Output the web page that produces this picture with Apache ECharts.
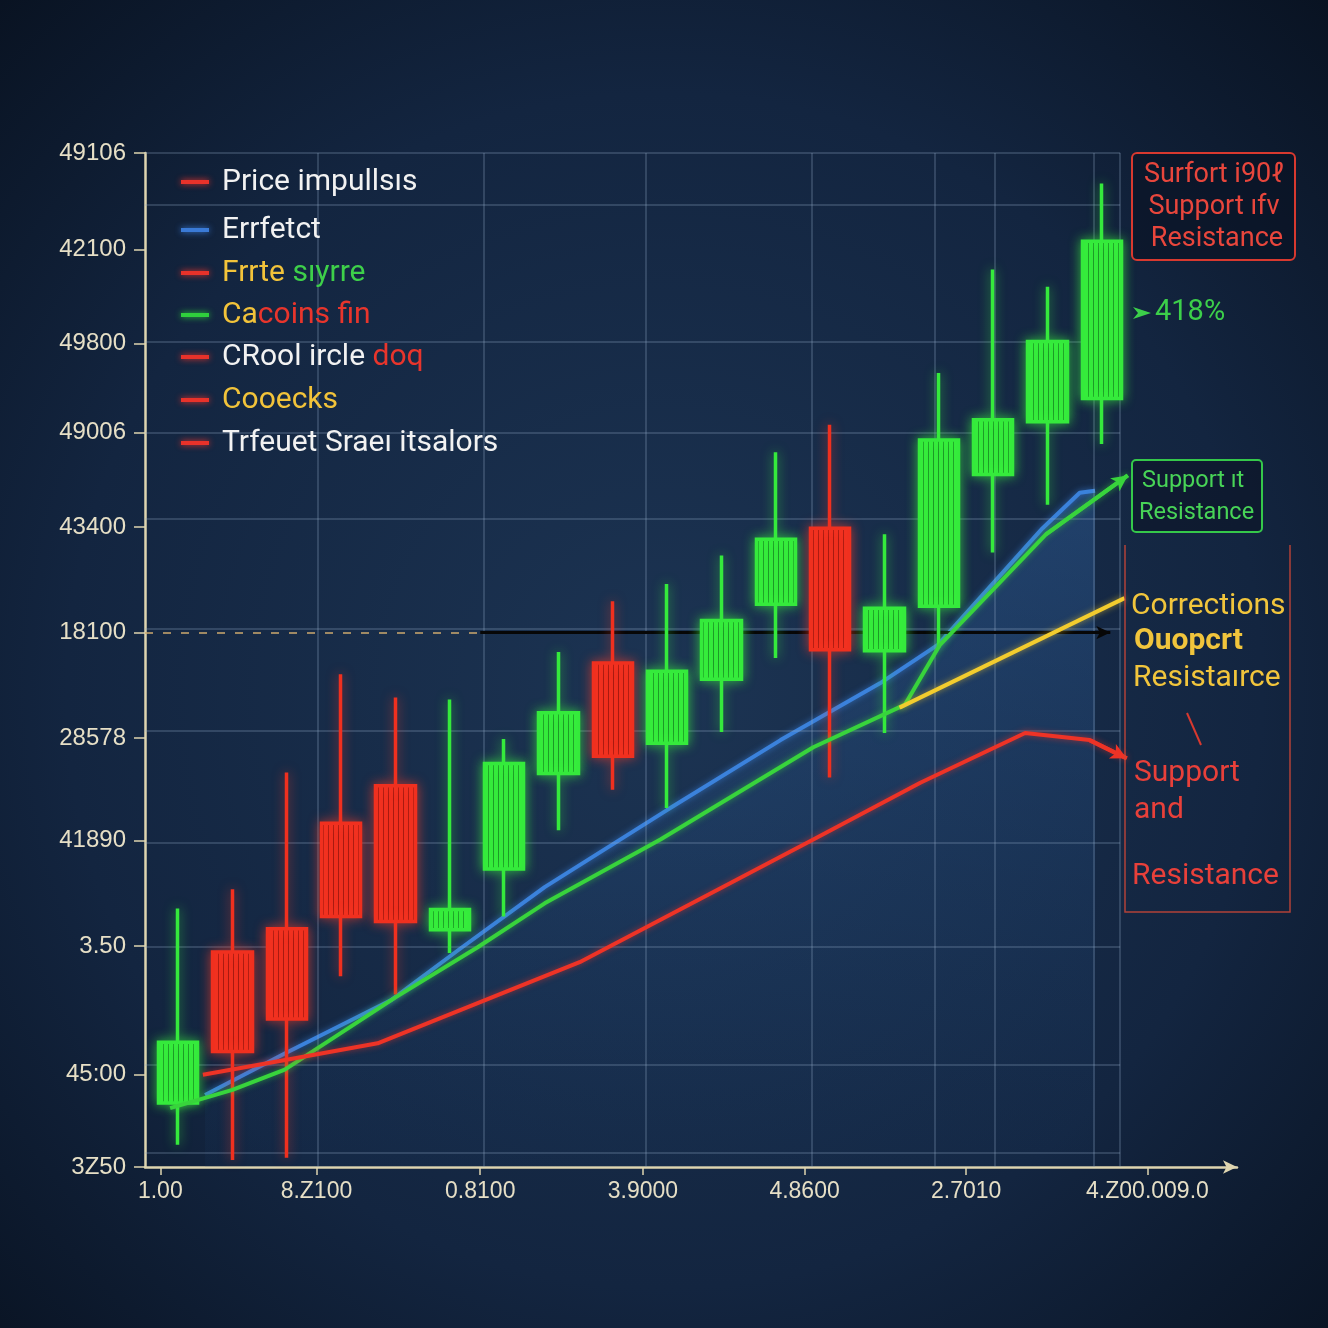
<!DOCTYPE html>
<html>
<head>
<meta charset="utf-8">
<script src="https://cdn.jsdelivr.net/npm/echarts@6/dist/echarts.min.js"></script>
<style>html,body{margin:0;padding:0;background:#0b1424;}#c{width:1328px;height:1328px;}</style>
</head>
<body>
<div id="c"></div>
<script>
// ---------- data ----------
const candleDays = ['D1','D2','D3','D4','D5','D6','D7','D8','D9','D10','D11','D12','D13','D14','D15','D16','D17','D18'];
// [open, close, low, high]
const candleOpen  = [6.3, 21.2, 23.5, 33.9, 37.6, 23.4, 29.4, 38.8, 49.7, 41.8, 48.1, 55.5, 63.0, 50.9, 55.3, 68.3, 73.5, 75.8];
const candleClose = [12.3, 11.4, 14.6, 24.7, 24.2, 25.4, 39.8, 44.8, 40.5, 48.9, 53.9, 61.9, 51.0, 55.1, 71.7, 73.7, 81.4, 91.3];
const candleLow   = [2.2, 0.7, 0.9, 18.8, 17.0, 21.1, 24.7, 33.2, 37.2, 35.4, 42.9, 50.2, 38.4, 42.8, 51.2, 60.6, 65.3, 71.3];
const candleHigh  = [25.5, 27.4, 38.9, 48.6, 46.3, 46.1, 42.2, 50.8, 55.8, 57.5, 60.3, 70.5, 73.2, 62.4, 78.3, 88.5, 86.8, 97.0];

const blueX  = [5.5, 12.8, 22.6, 28.7, 36.6, 47.8, 58.2, 67.3, 72.6, 82.2, 85.6, 87.0];
const blueY  = [7.1, 11.2, 16.5, 21.4, 27.6, 35.2, 42.1, 47.7, 51.5, 63.0, 66.5, 66.7];
const greenX = [2.3, 8.0, 12.8, 22.9, 30.5, 36.6, 47.2, 61.2, 69.6, 72.8, 82.5, 90.0];
const greenY = [5.8, 7.6, 9.6, 16.7, 21.7, 26.0, 32.3, 41.4, 45.6, 51.5, 62.4, 68.2];
const yellowX = [69.1, 89.7];
const yellowY = [45.3, 56.1];
const redX = [5.3, 13.1, 21.3, 39.8, 61.2, 71.0, 80.6, 86.5, 89.9];
const redY = [9.1, 10.6, 12.2, 20.2, 32.3, 37.9, 42.8, 42.1, 40.3];
const levelY = 52.7;         // dashed level
const levelStartX = 0, levelMidX = 30.7, levelEndX = 88.4;

const yTickVals   = [0, 9.1, 21.8, 32.2, 42.3, 52.7, 63.1, 72.4, 81.2, 90.5, 100];
const yTickLabels = ['3Z50', '45:00', '3.50', '41890', '28578', '18100', '43400', '49006', '49800', '42100', '49106'];
const xTickVals   = [1.4, 15.7, 30.7, 45.6, 60.4, 75.2, 91.8];
const xTickLabels = ['1.00', '8.Z100', '0.8100', '3.9000', '4.8600', '2.7010', '4.Z00.009.0'];

const gridYVals = [100, 94.9, 81.4, 72.4, 63.9, 53.1, 43.0, 32.0, 21.7, 10.1, 1.4];
const gridXVals = [15.8, 31.0, 45.9, 61.1, 72.3, 77.8, 86.9, 89.3];
const gridXEnd = 89.3;

const legendItems = [
  {color:'#e8322a', parts:[['w','Price impullsıs']]},
  {color:'#3a7ad6', parts:[['w','Errfetct']]},
  {color:'#e8322a', parts:[['y','Frrte '],['g','sıyrre']]},
  {color:'#2fcf3c', parts:[['y','Ca'],['r','coins fin']]},
  {color:'#e8322a', parts:[['w','CRool ircle '],['r','doq']]},
  {color:'#e8322a', parts:[['y','Cooecks']]},
  {color:'#e8322a', parts:[['w','Trfeuet Sraeı itsalors']]}
];

// ---------- helpers ----------
function zip(xs, ys){ return xs.map((x,i)=>[x, ys[i]]); }
function stripes(base, dark){
  const c = document.createElement('canvas'); c.width = 5; c.height = 4;
  const g = c.getContext('2d');
  g.fillStyle = base; g.fillRect(0,0,5,4);
  g.fillStyle = dark; g.fillRect(3,0,1,4);
  return {image:c, repeat:'repeat'};
}
const GREEN = '#35ea3c', RED = '#f0301f';

const chart = echarts.init(document.getElementById('c'), null, {renderer:'canvas'});

const candleData = candleDays.map((d,i)=>{
  const up = candleClose[i] >= candleOpen[i];
  return {value:[candleOpen[i], candleClose[i], candleLow[i], candleHigh[i]],
    itemStyle:{shadowColor: up ? 'rgba(60,255,60,0.6)' : 'rgba(255,60,40,0.6)'}};
});

const gridMarkData = [];
gridYVals.forEach(v => gridMarkData.push([{coord:[0, v]}, {coord:[gridXEnd, v]}]));
gridXVals.forEach(v => gridMarkData.push([{coord:[v, 0]}, {coord:[v, 100]}]));

const legendYs = [182, 230, 273, 315, 357, 400, 443];
const legendGraphics = [];
legendItems.forEach((it, i) => {
  const y = legendYs[i];
  legendGraphics.push({type:'line', shape:{x1:181, y1:y, x2:209, y2:y},
    style:{stroke:it.color, lineWidth:4, shadowBlur:6, shadowColor:it.color}, z:50});
  legendGraphics.push({type:'text', x:222, y:y, z:50,
    style:{text: it.parts.map(p=>'{'+p[0]+'|'+p[1]+'}').join(''), verticalAlign:'middle',
      rich:{
        w:{fill:'#f2f2f2', fontSize:30, fontFamily:'Roboto'},
        y:{fill:'#f2c33a', fontSize:30, fontFamily:'Roboto'},
        g:{fill:'#3ed04a', fontSize:30, fontFamily:'Roboto'},
        r:{fill:'#e8352c', fontSize:30, fontFamily:'Roboto'}
      }}});
});

function txt(x, y, s, color, size, extra){
  return Object.assign({type:'text', x:x, y:y, z:50,
    style:Object.assign({text:s, fill:color, fontSize:size, fontFamily:'Roboto', verticalAlign:'middle', textAlign:'left'}, extra||{})});
}

const annot = [
  {type:'rect', shape:{x:1132, y:153, width:163, height:107, r:5}, z:49,
    style:{fill:'rgba(10,16,32,0.55)', stroke:'#d8392f', lineWidth:2}},
  txt(1214, 175, 'Surfort i90ℓ', '#e8463c', 27, {textAlign:'center'}),
  txt(1214, 207, 'Support ıfv', '#e8463c', 27, {textAlign:'center'}),
  txt(1217, 239, 'Resistance', '#e8463c', 27, {textAlign:'center'}),
  {type:'polygon', shape:{points:[[1133,307],[1151,313],[1133,319],[1138,313]]}, z:50, style:{fill:'#3ccf4a'}},
  txt(1155, 313, '418%', '#3ccf4a', 29),
  {type:'rect', shape:{x:1132, y:460, width:130, height:72, r:4}, z:49,
    style:{fill:'rgba(10,16,32,0.5)', stroke:'#35c84a', lineWidth:2}},
  txt(1142, 481, 'Support ıt', '#48d457', 23.5),
  txt(1139, 513, 'Resistance', '#48d457', 23.5),
  txt(1131, 606, 'Corrections', '#f1c53c', 30),
  txt(1134, 641, 'Ouopcrt', '#f1c53c', 30, {fontWeight:'bold'}),
  txt(1133, 678, 'Resistaırce', '#f1c53c', 30),
  {type:'polyline', shape:{points:[[1125,545],[1125,912],[1290,912],[1290,545]]}, z:48,
    style:{stroke:'rgba(205,70,55,0.85)', lineWidth:1.5, fill:null}},
  {type:'line', shape:{x1:1187, y1:713, x2:1201, y2:745}, z:50, style:{stroke:'#d8392f', lineWidth:2}},
  txt(1134, 773, 'Support', '#e8403a', 30),
  txt(1134, 810, 'and', '#e8403a', 30),
  txt(1132, 876, 'Resistance', '#e8403a', 30)
];

const option = {
  animation:false,
  backgroundColor:{type:'radial', x:0.5, y:0.52, r:0.75,
    colorStops:[{offset:0, color:'#1c3453'},{offset:0.6, color:'#132540'},{offset:1, color:'#08111f'}]},
  grid:[
    {left:145, right:91, top:153, bottom:161},
    {left:151, right:199, top:153, bottom:161}
  ],
  xAxis:[
    {type:'value', gridIndex:0, min:0, max:100,
      axisLine:{show:true, lineStyle:{color:'#ded5b0', width:2.5}, symbol:['none','arrow'], symbolSize:[10,14]},
      axisTick:{show:true, customValues:xTickVals, length:8, inside:false, lineStyle:{color:'#ded5b0', width:1.5}},
      axisLabel:{customValues:xTickVals, margin:13, color:'#e6dfc6', fontSize:23, fontFamily:'Liberation Sans',
        formatter:(v)=>{const i = xTickVals.indexOf(v); return i>=0 ? xTickLabels[i] : '';}},
      splitLine:{show:false}},
    {type:'category', gridIndex:1, data:candleDays, boundaryGap:true,
      axisLine:{show:false}, axisTick:{show:false}, axisLabel:{show:false}, splitLine:{show:false}}
  ],
  yAxis:[
    {type:'value', gridIndex:0, min:0, max:100,
      axisLine:{show:true, lineStyle:{color:'#ded5b0', width:2.5}},
      axisTick:{show:true, customValues:yTickVals, length:11, lineStyle:{color:'#ded5b0', width:1.5}},
      axisLabel:{customValues:yTickVals, margin:19, color:'#e6dfc6', fontSize:24, fontFamily:'Liberation Sans',
        formatter:(v)=>{const i = yTickVals.indexOf(v); return i>=0 ? yTickLabels[i] : '';}},
      splitLine:{show:false}},
    {type:'value', gridIndex:1, min:0, max:100, show:false, splitLine:{show:false}}
  ],
  series:[
    {type:'line', name:'grid', xAxisIndex:0, yAxisIndex:0, data:[], z:1, silent:true,
      markLine:{silent:true, symbol:['none','none'], label:{show:false},
        lineStyle:{color:'rgba(150,170,200,0.33)', width:1.5, type:'solid'}, data:gridMarkData}},
    {type:'line', name:'level', xAxisIndex:0, yAxisIndex:0, data:[], z:2, silent:true,
      markLine:{silent:true, label:{show:false}, data:[
        [{coord:[levelStartX, levelY], symbol:'none', lineStyle:{color:'rgba(205,170,110,0.75)', width:2, type:[8,10]}},
         {coord:[levelEndX, levelY], symbol:'none'}],
        [{coord:[levelMidX, levelY], symbol:'none', lineStyle:{color:'#070707', width:3, type:'solid'}},
         {coord:[levelEndX, levelY], symbol:'arrow', symbolSize:[10,14]}]
      ], itemStyle:{color:'#8a7a5a'}}},
    {type:'line', name:'Blue', xAxisIndex:0, yAxisIndex:0, data:zip(blueX, blueY), z:3,
      showSymbol:false, smooth:false,
      lineStyle:{color:'#3b82dc', width:4, shadowBlur:6, shadowColor:'rgba(60,130,220,0.7)'},
      areaStyle:{color:{type:'linear', x:0, y:0, x2:0, y2:1,
        colorStops:[{offset:0, color:'rgba(52,105,170,0.55)'},{offset:1, color:'rgba(30,70,120,0.12)'}]}}},
    {type:'candlestick', name:'Candles', xAxisIndex:1, yAxisIndex:1, data:candleData, z:5, barWidth:40,
      itemStyle:{color:stripes(GREEN,'#1c9a26'), color0:stripes(RED,'#a81a10'),
        borderColor:GREEN, borderColor0:RED, borderWidth:3.5,
        shadowBlur:12, shadowColor:'rgba(60,255,60,0.55)'}},
    {type:'line', name:'Green', xAxisIndex:0, yAxisIndex:0, data:zip(greenX, greenY), z:6,
      showSymbol:false, lineStyle:{color:'#38d43c', width:4, shadowBlur:6, shadowColor:'rgba(60,220,60,0.6)'},
      markLine:{silent:true, label:{show:false}, symbol:['none','arrow'], symbolSize:[12,16],
        lineStyle:{color:'#38d43c', width:4, type:'solid'},
        data:[[{coord:[greenX[greenX.length-2], greenY[greenY.length-2]]},{coord:[greenX[greenX.length-1], greenY[greenY.length-1]]}]]}},
    {type:'line', name:'Yellow', xAxisIndex:0, yAxisIndex:0, data:zip(yellowX, yellowY), z:6,
      showSymbol:false, lineStyle:{color:'#f2cc2e', width:4, shadowBlur:6, shadowColor:'rgba(240,200,40,0.6)'}},
    {type:'line', name:'Red', xAxisIndex:0, yAxisIndex:0, data:zip(redX, redY), z:6,
      showSymbol:false, lineStyle:{color:'#ee3326', width:4, shadowBlur:6, shadowColor:'rgba(240,50,40,0.6)'},
      markLine:{silent:true, label:{show:false}, symbol:['none','arrow'], symbolSize:[12,16],
        lineStyle:{color:'#ee3326', width:4, type:'solid'},
        data:[[{coord:[redX[redX.length-2], redY[redY.length-2]]},{coord:[redX[redX.length-1], redY[redY.length-1]]}]]}}
  ],
  graphic: legendGraphics.concat(annot)
};
chart.setOption(option);
</script>
</body>
</html>
